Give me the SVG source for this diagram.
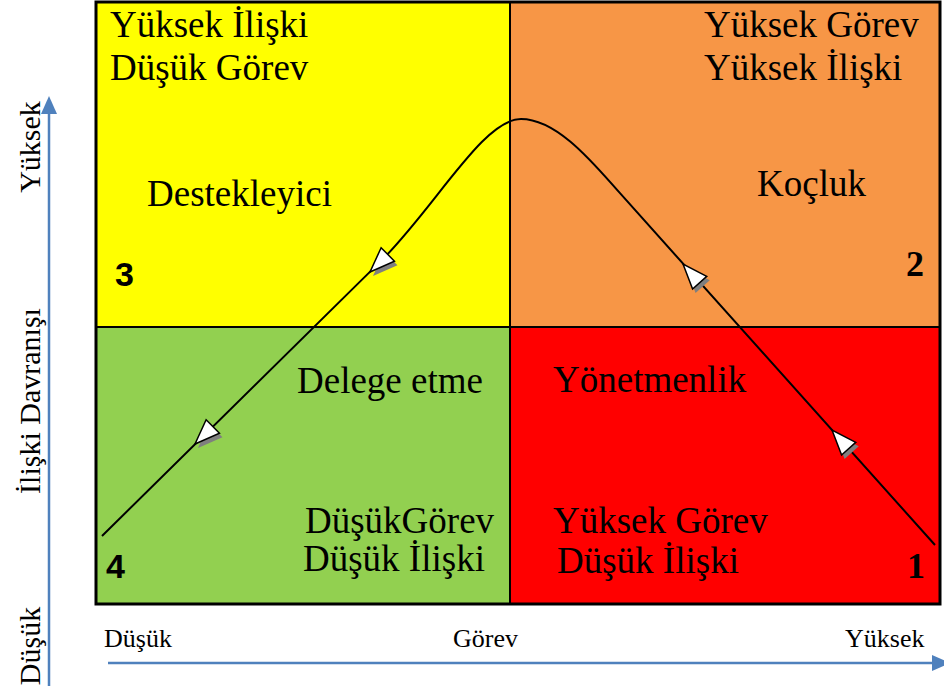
<svg xmlns="http://www.w3.org/2000/svg" xmlns:xlink="http://www.w3.org/1999/xlink" width="944" height="688" viewBox="0 0 944 688">
<style>
.q{font-family:"Liberation Serif","Times New Roman",serif;font-size:37px;fill:#000}
.ax{font-family:"Liberation Serif","Times New Roman",serif;font-size:26px;fill:#000}
.av{font-family:"Liberation Serif","Times New Roman",serif;font-size:30px;fill:#000}
.ns{font-family:"Liberation Sans",Arial,sans-serif;font-size:34px;font-weight:bold;fill:#000}
.nr{font-family:"Liberation Serif","Times New Roman",serif;font-size:36px;font-weight:bold;fill:#000}
.axis{stroke:#4F81BD;stroke-width:2.5;fill:none}
.grid{stroke:#000;fill:none}
</style>
<defs>
<polygon id="ah" points="0,0 -25,-9.5 -25,9.5" fill="#fff" stroke="#000" stroke-width="1.5" stroke-linejoin="miter"/>
<polygon id="ahs" points="0,0 -25,-9.5 -25,9.5" fill="#7f7f7f"/>
</defs>
<g id="quadrants">
<rect x="96" y="2" width="414" height="325" fill="#FFFF00"/>
<rect x="510" y="2" width="430" height="325" fill="#F79646"/>
<rect x="96" y="327" width="414" height="277" fill="#92D050"/>
<rect x="510" y="327" width="430" height="277" fill="#FF0000"/>
<line class="grid" x1="510" y1="2" x2="510" y2="604" stroke-width="2"/>
<line class="grid" x1="96" y1="327" x2="940" y2="327" stroke-width="2"/>
<rect class="grid" x="96" y="2" width="844" height="602" stroke-width="3"/>
</g>
<g id="q3">
<text class="q" x="110" y="37">Yüksek İlişki</text>
<text class="q" x="110" y="80">Düşük Görev</text>
<text class="q" x="147" y="206">Destekleyici</text>
<text class="ns" x="115" y="286">3</text>
</g>
<g id="q2">
<text class="q" x="704" y="37">Yüksek Görev</text>
<text class="q" x="704" y="80">Yüksek İlişki</text>
<text class="q" x="757" y="196">Koçluk</text>
<text class="nr" x="906" y="276">2</text>
</g>
<g id="q4">
<text class="q" x="297" y="393">Delege etme</text>
<text class="q" x="305" y="533">DüşükGörev</text>
<text class="q" x="303" y="571">Düşük İlişki</text>
<text class="ns" x="106" y="578">4</text>
</g>
<g id="q1">
<text class="q" x="553" y="392">Yönetmenlik</text>
<text class="q" x="553" y="533">Yüksek Görev</text>
<text class="q" x="557" y="573">Düşük İlişki</text>
<text class="nr" x="907" y="578">1</text>
</g>
<g id="connectors">
<path d="M102,536 L380,261.9 C435,207.7 483,119 521,119 C558,119 595,165.3 620,193.2 L935,545" fill="none" stroke="#000" stroke-width="2"/>
<use xlink:href="#ahs" transform="translate(835,434) rotate(-131.8)"/>
<use xlink:href="#ah" transform="translate(832,430) rotate(-131.8)"/>
<use xlink:href="#ahs" transform="translate(686,268) rotate(-131.8)"/>
<use xlink:href="#ah" transform="translate(683,264) rotate(-131.8)"/>
<use xlink:href="#ahs" transform="translate(373,276) rotate(135.4)"/>
<use xlink:href="#ah" transform="translate(370,272) rotate(135.4)"/>
<use xlink:href="#ahs" transform="translate(198,448) rotate(135.4)"/>
<use xlink:href="#ah" transform="translate(195,444) rotate(135.4)"/>
</g>
<g id="axes">
<line class="axis" x1="49" y1="686" x2="49" y2="110"/>
<polygon points="49,96 41,114 57,114" fill="#4F81BD"/>
<line class="axis" x1="108" y1="663" x2="932" y2="663"/>
<polygon points="950,663 932,655 932,671" fill="#4F81BD"/>
<text class="av" transform="translate(40,147) rotate(-90)" text-anchor="middle">Yüksek</text>
<text class="av" transform="translate(40,401) rotate(-90)" text-anchor="middle">İlişki Davranışı</text>
<text class="av" transform="translate(40,646) rotate(-90)" text-anchor="middle">Düşük</text>
<text class="ax" x="104" y="647">Düşük</text>
<text class="ax" x="453" y="647">Görev</text>
<text class="ax" x="845" y="647">Yüksek</text>
</g>
</svg>
